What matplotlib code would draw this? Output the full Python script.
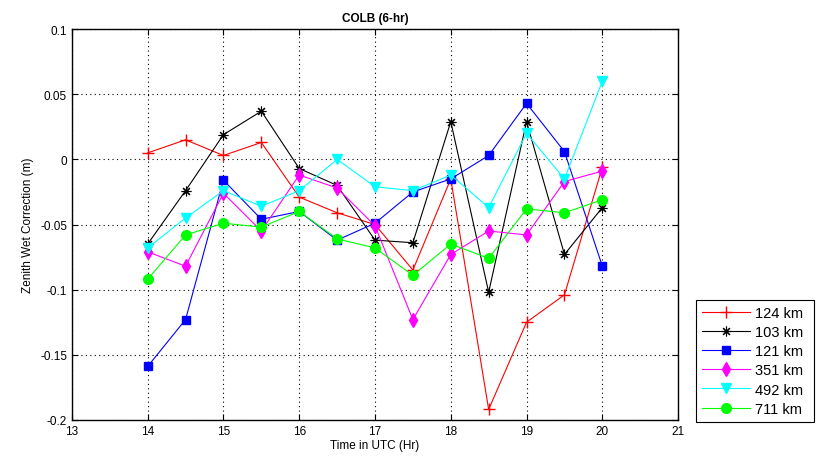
import numpy as np
import matplotlib.pyplot as plt

plt.rcParams['font.family'] = ['Liberation Sans', 'DejaVu Sans']

hours = [14, 14.5, 15, 15.5, 16, 16.5, 17, 17.5, 18, 18.5, 19, 19.5, 20]

zwc_124 = [0.005, 0.015, 0.003, 0.013, -0.029, -0.041, -0.050, -0.085, -0.015, -0.192, -0.125, -0.104, -0.006]
zwc_103 = [-0.065, -0.024, 0.019, 0.037, -0.007, -0.020, -0.062, -0.064, 0.029, -0.102, 0.029, -0.073, -0.037]
zwc_121 = [-0.159, -0.123, -0.016, -0.046, -0.040, -0.062, -0.049, -0.025, -0.015, 0.003, 0.043, 0.006, -0.082]
zwc_351 = [-0.071, -0.082, -0.026, -0.055, -0.012, -0.022, -0.051, -0.123, -0.073, -0.055, -0.058, -0.017, -0.009]
zwc_492 = [-0.068, -0.045, -0.024, -0.036, -0.024, 0.000, -0.021, -0.024, -0.012, -0.037, 0.020, -0.015, 0.060]
zwc_711 = [-0.092, -0.058, -0.049, -0.052, -0.040, -0.061, -0.068, -0.089, -0.065, -0.076, -0.038, -0.041, -0.031]

# asterisk made of + and x strokes
asterisk = (8, 2, 0)

series = [
    (zwc_124, '124 km', 'red', '+', 8, 'none', 1.0),
    (zwc_103, '103 km', 'black', asterisk, 7, 'black', 0.8),
    (zwc_121, '121 km', 'blue', 's', 6, 'blue', 1.0),
    (zwc_351, '351 km', 'magenta', 'd', 7, 'magenta', 1.0),
    (zwc_492, '492 km', 'cyan', 'v', 7, 'cyan', 1.0),
    (zwc_711, '711 km', 'lime', 'o', 7, 'lime', 1.0),
]

fig = plt.figure(figsize=(8.17, 4.64), dpi=100)
ax = fig.add_axes([0.088, 0.093, 0.742, 0.842])

for vals, label, color, marker, ms, mfc, mew in series:
    ax.plot(hours, vals, color=color, marker=marker, markersize=ms,
            markerfacecolor=mfc, markeredgecolor=color, linewidth=0.8,
            markeredgewidth=mew, label=label)

ax.set_xlim(13, 21)
ax.set_ylim(-0.2, 0.1)
ax.set_xticks(np.arange(13, 22, 1))
ax.set_yticks([-0.2, -0.15, -0.1, -0.05, 0, 0.05, 0.1])
ax.set_yticklabels(['-0.2', '-0.15', '-0.1', '-0.05', '0', '0.05', '0.1'])
ax.grid(True, color='black', linestyle=(0, (1, 3)), linewidth=0.8)
ax.tick_params(direction='in', top=True, right=True, labelsize=8.5, length=4)
for sp in ax.spines.values():
    sp.set_linewidth(1.0)

ax.set_title('COLB (6-hr)', fontsize=8.5, fontweight='bold')
ax.set_xlabel('Time in UTC (Hr)', fontsize=8.5, labelpad=2)
ax.set_ylabel('Zenith Wet Correction (m)', fontsize=8.5)

leg = fig.legend(loc='lower left', bbox_to_anchor=(0.8515, 0.088, 0.1445, 0.278),
                 mode='expand', fontsize=10.5, fancybox=False, edgecolor='black',
                 framealpha=1, handlelength=3.3, handletextpad=0.35,
                 borderaxespad=0, borderpad=0.45, labelspacing=0.35)
leg.get_frame().set_linewidth(0.8)

fig.savefig('out.png', dpi=100)
